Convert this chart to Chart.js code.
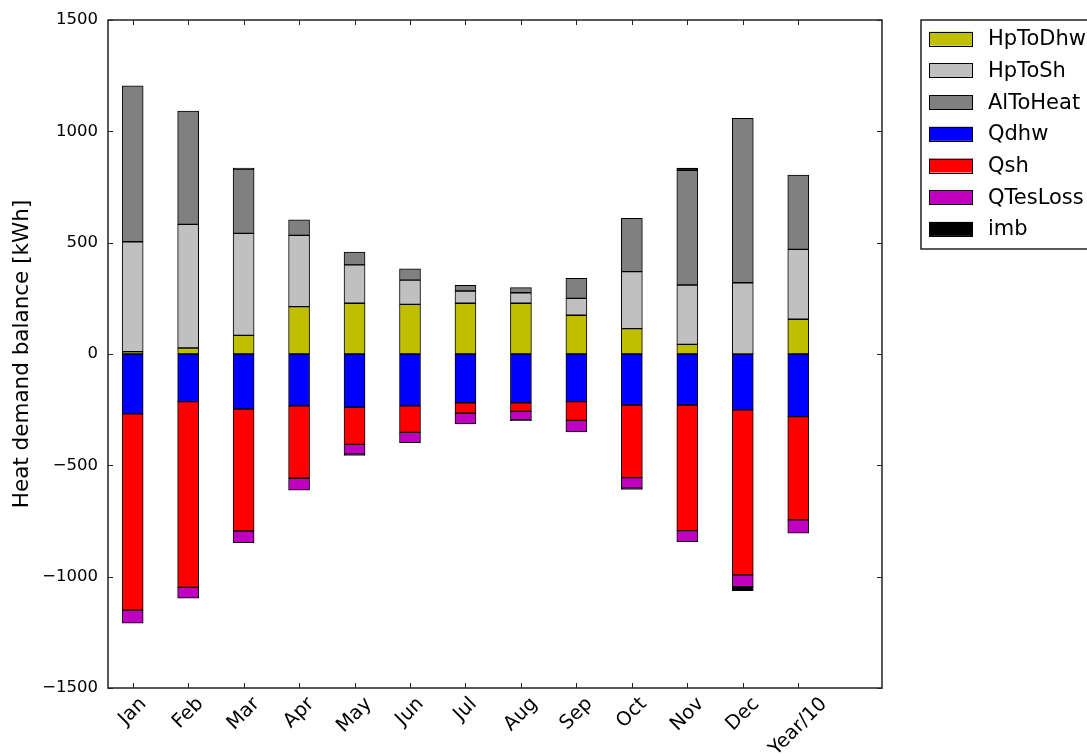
<!DOCTYPE html>
<html><head><meta charset="utf-8">
<script src="https://cdn.jsdelivr.net/npm/chart.js@4"></script>
<style>html,body{margin:0;padding:0;background:#fff;overflow:hidden}canvas{display:block}</style>
</head><body>
<canvas id="c" width="1087" height="756"></canvas>
<script>
const categories = ['Jan','Feb','Mar','Apr','May','Jun','Jul','Aug','Sep','Oct','Nov','Dec','Year/10'];
const yTicks = [-1500,-1000,-500,0,500,1000,1500];
const hpToDhw  = [10, 27, 84, 213, 228, 223, 228, 228, 174, 114, 43, 2, 156];
const hpToSh   = [494, 555, 458, 320, 172, 109, 55, 47, 76, 256, 267, 318, 314];
const alToHeat = [700, 509, 289, 70, 58, 51, 25, 23, 90, 239, 515, 738, 334];
const qdhw     = [-269, -214, -247, -233, -239, -233, -219, -219, -214, -229, -229, -251, -281];
const qsh      = [-881, -834, -548, -325, -167, -119, -47, -39, -84, -326, -564, -741, -464];
const qTesLoss = [-59, -49, -52, -53, -44, -46, -48, -38, -52, -48, -50, -53, -60];
const imb      = [0, 0, 4, 0, -6, 0, 0, -3, 0, -5, 10, -18, 0];

const seriesNames = ['HpToDhw','HpToSh','AlToHeat','Qdhw','Qsh','QTesLoss','imb'];
const seriesValues = [hpToDhw, hpToSh, alToHeat, qdhw, qsh, qTesLoss, imb];
const seriesColors = ['#bfbf00','#c0c0c0','#808080','#0000ff','#ff0000','#bf00bf','#000000'];

const FONT = "'DejaVu Sans', sans-serif";
const toPoints = arr => arr.map((v, i) => ({x: i, y: v}));
const fmt = v => (v < 0 ? '\u2212' + Math.abs(v) : String(v));

const datasets = seriesNames.map((name, k) => ({
  label: name,
  data: toPoints(seriesValues[k]),
  backgroundColor: seriesColors[k],
  borderColor: '#000',
  borderWidth: 1,
  borderSkipped: false,
  barThickness: 21
}));

const decorPlugin = {
  id: 'decor',
  afterDraw(chart) {
    const ctx = chart.ctx;
    const a = chart.chartArea;
    const xs = chart.scales.x, ys = chart.scales.y;
    ctx.save();
    // frame
    ctx.strokeStyle = '#222';
    ctx.lineWidth = 1.5;
    ctx.strokeRect(a.left, a.top, a.right - a.left, a.bottom - a.top);
    // inward ticks
    ctx.lineWidth = 1;
    ctx.strokeStyle = '#222';
    ctx.beginPath();
    yTicks.forEach(v => {
      const y = Math.round(ys.getPixelForValue(v)) + 0.5;
      ctx.moveTo(a.left, y); ctx.lineTo(a.left + 5, y);
      ctx.moveTo(a.right, y); ctx.lineTo(a.right - 5, y);
    });
    categories.forEach((c, i) => {
      const x = Math.round(xs.getPixelForValue(i)) + 0.5;
      ctx.moveTo(x, a.bottom); ctx.lineTo(x, a.bottom - 5);
      ctx.moveTo(x, a.top); ctx.lineTo(x, a.top + 5);
    });
    ctx.stroke();
    // rotated x labels, centred on tick (matplotlib style)
    const fs = 19.5;
    ctx.font = fs + 'px ' + FONT;
    ctx.fillStyle = '#000';
    ctx.textAlign = 'center';
    ctx.textBaseline = 'middle';
    categories.forEach((c, i) => {
      const x = xs.getPixelForValue(i);
      const w = ctx.measureText(c).width;
      const h = fs * 1.164;
      const bh = (w + h) / Math.SQRT2;
      const cy = a.bottom + 5 + bh / 2;
      ctx.save();
      ctx.translate(x, cy);
      ctx.rotate(-Math.PI / 4);
      ctx.fillText(c, 0, 0);
      ctx.restore();
    });
    // legend
    const lx = 921, ly = 20, lh = 229;
    ctx.fillStyle = '#fff';
    ctx.fillRect(lx, ly, 300, lh);
    ctx.strokeStyle = '#222';
    ctx.lineWidth = 1.5;
    ctx.strokeRect(lx, ly, 300, lh);
    ctx.font = '21px ' + FONT;
    ctx.textAlign = 'left';
    ctx.textBaseline = 'middle';
    chart.data.datasets.forEach((ds, k) => {
      const cy = 38.7 + k * 31.7;
      ctx.fillStyle = ds.backgroundColor;
      ctx.fillRect(929, cy - 7, 44, 14);
      ctx.lineWidth = 1;
      ctx.strokeStyle = '#000';
      ctx.strokeRect(929.5, Math.round(cy - 7) + 0.5, 43, 14);
      ctx.fillStyle = '#000';
      ctx.fillText(ds.label, 988, cy + 1);
    });
    ctx.restore();
  }
};

new Chart(document.getElementById('c').getContext('2d'), {
  type: 'bar',
  data: { datasets },
  options: {
    responsive: false,
    animation: false,
    devicePixelRatio: 1,
    layout: { padding: { left: 0, right: 205, top: 20, bottom: 68 } },
    plugins: { legend: { display: false }, tooltip: { enabled: false } },
    scales: {
      x: {
        type: 'linear', min: -0.445, max: 13.51, stacked: true, offset: false,
        grid: { display: false, drawTicks: false, offset: false }, border: { display: false },
        ticks: { display: false },
        afterFit(s) { s.height = 0; }
      },
      y: {
        min: -1500, max: 1500, stacked: true,
        grid: { display: false, drawTicks: false }, border: { display: false },
        ticks: { stepSize: 500, padding: 10, color: '#000', font: { family: FONT, size: 16.5 }, callback: v => fmt(v) },
        afterBuildTicks(s) { s.ticks = yTicks.map(v => ({ value: v })); },
        title: { display: true, text: 'Heat demand balance [kWh]', color: '#000', font: { family: FONT, size: 21.5 }, padding: { top: 10, bottom: 0 } },
        afterFit(s) { s.width = 108; }
      }
    }
  },
  plugins: [decorPlugin]
});
</script>
</body></html>
